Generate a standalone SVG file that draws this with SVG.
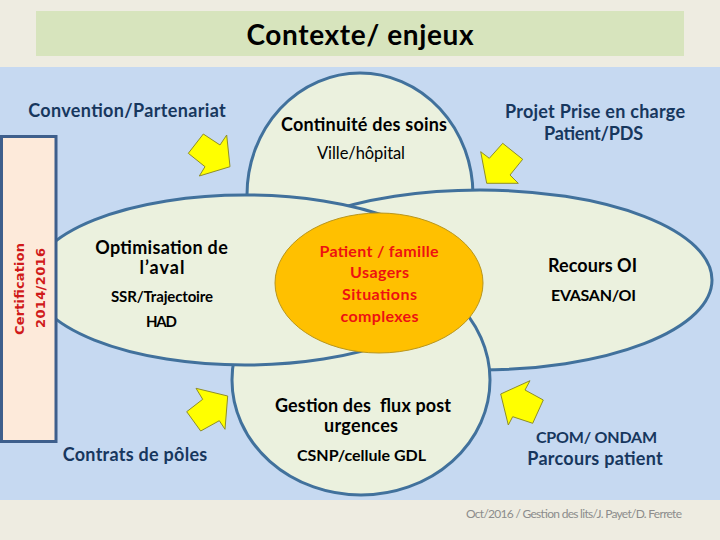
<svg xmlns="http://www.w3.org/2000/svg" width="720" height="540" viewBox="0 0 720 540">
<style>
.sh{fill:#EBF1DE;stroke:#41719C;stroke-width:3}
.b{font-family:Lato,"Liberation Sans",sans-serif;font-weight:bold;text-anchor:middle;fill:#000}
.r{font-family:Lato,"Liberation Sans",sans-serif;font-weight:normal;text-anchor:middle;fill:#000}
.nv{fill:#17375E}
.rd{fill:#EE1111}
.arr{fill:#FFFF00;stroke:#8E8E2A;stroke-width:1;stroke-linejoin:miter}
</style>
<rect x="0" y="0" width="720" height="540" fill="#EEECE1"/>
<rect x="36" y="11" width="648" height="45" fill="#D7E4BD"/>
<rect x="0" y="67" width="720" height="433" fill="#C6D9F1"/>
<g id="title"><text class="b" x="360" y="45" font-size="28" textLength="227">Contexte/ enjeux</text></g>

<g id="continuite">
<ellipse class="sh" cx="360" cy="195" rx="113" ry="122"/>
<text class="b" x="364" y="131" font-size="18" textLength="166">Continuité des soins</text>
<text class="r" x="361" y="159" font-size="16.5" textLength="88">Ville/hôpital</text>
</g>
<g id="recours">
<ellipse class="sh" cx="480" cy="280" rx="232" ry="90"/>
<text class="b" x="592.5" y="272" font-size="18" textLength="89">Recours OI</text>
<text class="b" x="593.5" y="301" font-size="16" textLength="85">EVASAN/OI</text>
</g>
<g id="gestion">
<ellipse class="sh" cx="361" cy="380" rx="129" ry="115"/>
<text class="b" x="363" y="411.5" font-size="18" textLength="176" xml:space="preserve">Gestion des  flux post</text>
<text class="b" x="361" y="431.5" font-size="18" textLength="74">urgences</text>
<text class="b" x="361.5" y="461" font-size="16" textLength="129">CSNP/cellule GDL</text>
</g>
<g id="optimisation">
<ellipse class="sh" cx="245" cy="280" rx="213" ry="85"/>
<text class="b" x="161.5" y="254" font-size="18" textLength="132.5">Optimisation de</text>
<text class="b" x="162" y="274" font-size="18" textLength="45">l’aval</text>
<text class="b" x="162" y="301.5" font-size="15" textLength="102">SSR/Trajectoire</text>
<text class="b" x="161.5" y="327" font-size="15" textLength="31">HAD</text>
</g>
<g id="patient">
<ellipse cx="379" cy="283" rx="104" ry="70" fill="#FFC000" stroke="#B8961E" stroke-width="1"/>
<text class="b rd" x="379" y="257" font-size="16" textLength="119">Patient / famille</text>
<text class="b rd" x="379.5" y="278" font-size="16" textLength="59">Usagers</text>
<text class="b rd" x="379.5" y="300" font-size="16" textLength="75">Situations</text>
<text class="b rd" x="379.5" y="322" font-size="16" textLength="78">complexes</text>
</g>

<g id="certification">
<rect x="1.5" y="136.5" width="54.5" height="305" fill="#FDEADA" stroke="#3E5F8C" stroke-width="3"/>
<text transform="translate(24,289) rotate(-90)" x="0" y="0" font-family="'DejaVu Sans',Verdana,sans-serif" font-weight="bold" font-size="13" text-anchor="middle" fill="#D01A1A" textLength="92">Certification</text>
<text transform="translate(45,288) rotate(-90)" x="0" y="0" font-family="'DejaVu Sans',Verdana,sans-serif" font-weight="bold" font-size="13" text-anchor="middle" fill="#D01A1A" textLength="80">2014/2016</text>
</g>

<g id="label-convention"><text class="b nv" x="127" y="117" font-size="18" textLength="197.5">Convention/Partenariat</text></g>
<g id="label-projet">
<text class="b nv" x="595" y="118" font-size="18" textLength="180">Projet Prise en charge</text>
<text class="b nv" x="593.5" y="140" font-size="18" textLength="99">Patient/PDS</text>
</g>
<g id="label-contrats"><text class="b nv" x="135" y="461" font-size="18" textLength="144.5">Contrats de pôles</text></g>
<g id="label-cpom">
<text class="b nv" x="596.5" y="442.5" font-size="16" textLength="121">CPOM/ ONDAM</text>
<text class="b nv" x="595" y="465" font-size="18" textLength="135.5">Parcours patient</text>
</g>

<g id="connectors">
<polygon class="arr" points="203.3,134 220,145 226.7,135 230,166.7 199.3,176 205,166.7 188.3,153.3"/>
<polygon class="arr" points="480.7,151.7 489.3,158.3 502.7,143.3 522.7,159.3 510,175 518.3,183.3 486.7,183.3"/>
<polygon class="arr" points="196,388.3 227.7,396 225,429.3 219.3,420.7 200.7,431 186.7,411.7 202.7,399.3"/>
<polygon class="arr" points="500.7,394 530,380.7 525,390 543.3,400 532.7,423.3 512.7,416.7 508.3,425"/>
</g>

<g id="footer"><text x="574" y="518" font-family="Lato,'Liberation Sans',sans-serif" font-size="12" text-anchor="middle" fill="#8C8C8C" textLength="216">Oct/2016 / Gestion des lits/J. Payet/D. Ferrete</text></g>
</svg>
